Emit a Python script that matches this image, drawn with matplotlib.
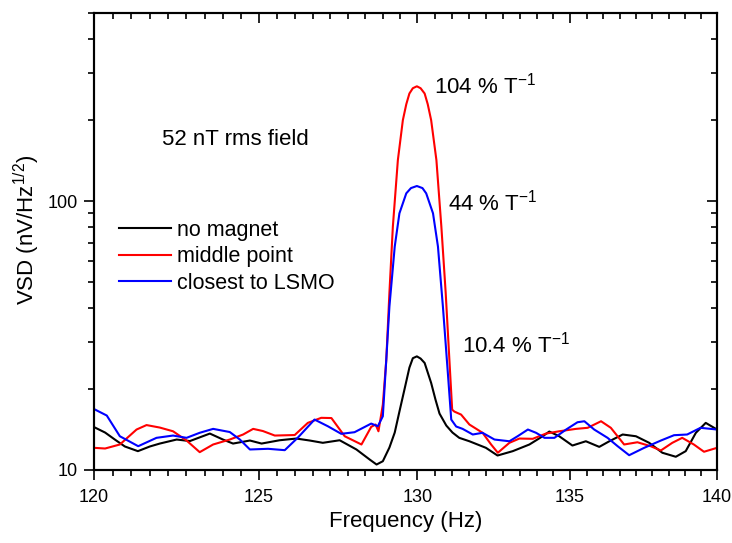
import matplotlib
matplotlib.use('Agg')
import matplotlib.pyplot as plt
from matplotlib.ticker import FixedLocator, NullFormatter, FormatStrFormatter, LogLocator

plt.rcParams['font.family'] = ['Liberation Sans', 'DejaVu Sans']
plt.rcParams['mathtext.fontset'] = 'custom'
plt.rcParams['mathtext.rm'] = 'Liberation Sans'
plt.rcParams['mathtext.it'] = 'Liberation Sans:italic'
plt.rcParams['mathtext.default'] = 'regular'

# no magnet
freq_black = [120.00, 120.33, 120.62, 120.92, 121.31, 121.67, 121.97, 122.48, 122.88, 123.49,
              123.89, 124.20, 124.72, 125.08, 125.64, 126.16, 126.58, 126.99, 127.52, 128.05,
              128.47, 128.69, 128.89, 129.10, 129.27, 129.42, 129.58, 129.74, 129.85, 129.98,
              130.10, 130.23, 130.44, 130.58, 130.71, 130.93, 131.13, 131.35, 131.68, 132.22,
              132.60, 133.10, 133.65, 134.09, 134.31, 134.64, 135.08, 135.53, 135.98, 136.32,
              136.77, 137.22, 137.67, 138.12, 138.58, 138.92, 139.27, 139.61, 140.00]
vsd_black = [14.44, 13.78, 12.98, 12.23, 11.75, 12.23, 12.54, 12.98, 12.81, 13.66,
             12.98, 12.54, 12.87, 12.54, 12.90, 13.09, 12.87, 12.62, 12.90, 11.92,
             10.94, 10.48, 10.78, 12.12, 13.78, 16.49, 19.89, 24.02, 26.04, 26.45,
             25.96, 25.00, 21.07, 18.27, 16.21, 14.63, 13.78, 13.17, 12.79, 12.09,
             11.32, 11.75, 12.44, 13.35, 13.90, 13.35, 12.33, 12.79, 12.19, 12.79,
             13.55, 13.35, 12.62, 11.59, 11.20, 11.75, 13.75, 14.97, 14.14]

# middle point
freq_red = [120.00, 120.33, 120.77, 121.27, 121.57, 121.97, 122.37, 122.78, 123.18, 123.59,
            124.10, 124.51, 124.82, 125.12, 125.49, 126.11, 126.52, 126.94, 127.26, 127.68,
            128.21, 128.52, 128.66, 128.75, 128.89, 129.00, 129.10, 129.21, 129.37, 129.53,
            129.64, 129.74, 129.85, 129.98, 130.10, 130.23, 130.33, 130.44, 130.61, 130.77,
            130.91, 131.03, 131.12, 131.19, 131.41, 131.68, 132.11, 132.39, 132.61, 132.99,
            133.32, 133.76, 134.20, 134.64, 135.20, 135.59, 136.04, 136.37, 136.82, 137.27,
            137.72, 138.07, 138.46, 138.80, 139.20, 139.55, 140.00]
vsd_red = [12.09, 12.02, 12.44, 14.14, 14.69, 14.38, 13.93, 12.87, 11.65, 12.44,
           12.98, 13.55, 14.22, 13.96, 13.43, 13.49, 14.97, 15.63, 15.60, 13.35,
           12.44, 14.47, 14.76, 13.93, 17.50, 25.7, 45.6, 80.3, 141.9, 199.8,
           229.0, 251.0, 262.6, 267.0, 262.6, 251.0, 229.0, 199.8, 141.9, 80.3,
           45.6, 25.7, 16.77, 16.49, 16.07, 14.76, 13.75, 12.44, 11.59, 12.62,
           13.09, 13.06, 13.66, 13.93, 14.22, 14.35, 15.18, 14.35, 12.44, 12.68,
           12.26, 11.82, 12.62, 13.17, 12.44, 11.69, 12.09]

# closest to LSMO
freq_blue = [120.00, 120.38, 120.77, 121.32, 121.87, 122.37, 122.78, 123.18, 123.59, 124.10,
             124.41, 124.72, 125.28, 125.80, 126.21, 126.73, 127.15, 127.57, 127.99, 128.52,
             128.73, 128.89, 129.00, 129.10, 129.27, 129.42, 129.64, 129.79, 129.98, 130.16,
             130.28, 130.50, 130.66, 130.82, 130.98, 131.09, 131.25, 131.46, 131.79, 132.11,
             132.50, 132.99, 133.26, 133.60, 133.87, 134.15, 134.48, 134.87, 135.25, 135.48,
             135.81, 136.26, 136.60, 136.99, 137.50, 138.07, 138.52, 138.97, 139.43, 140.00]
vsd_blue = [16.85, 15.94, 13.35, 12.26, 13.17, 13.43, 13.17, 13.75, 14.22, 13.84,
            12.98, 11.92, 11.99, 11.85, 13.20, 15.40, 14.54, 13.63, 13.82, 14.88,
            14.54, 15.84, 25.7, 40.5, 67.7, 90.0, 106.8, 111.7, 113.7, 111.7,
            106.8, 90.0, 67.7, 40.5, 22.95, 15.40, 14.51, 14.22, 13.55, 13.75,
            12.98, 12.79, 13.35, 14.14, 13.75, 13.17, 13.17, 14.14, 15.05, 15.18,
            14.14, 13.17, 12.26, 11.35, 12.09, 12.87, 13.47, 13.55, 14.35, 14.14]

series_labels = ['no magnet', 'middle point', 'closest to LSMO']
x_major = [120, 125, 130, 135, 140]
y_major = [10, 100]

W, H = 732, 543
fig = plt.figure(figsize=(W / 100, H / 100), dpi=100)
rect = [94 / W, 1 - 470 / H, (717 - 94) / W, (470 - 13) / H]

# origin style minor ticks: 8 between majors
x_minor = [m + k * 5 / 9 for m in x_major[:-1] for k in range(1, 9)]


def setup(a, labels, direction):
    a.set_xscale('log')
    a.set_yscale('log')
    a.set_xlim(120, 140)
    a.set_ylim(10, 500)
    a.xaxis.set_major_locator(FixedLocator(x_major))
    a.xaxis.set_minor_locator(FixedLocator(x_minor))
    a.yaxis.set_major_locator(FixedLocator(y_major))
    a.yaxis.set_minor_locator(LogLocator(base=10, subs=range(2, 10)))
    a.xaxis.set_minor_formatter(NullFormatter())
    a.yaxis.set_minor_formatter(NullFormatter())
    a.xaxis.set_major_formatter(FormatStrFormatter('%d') if labels else NullFormatter())
    a.yaxis.set_major_formatter(FormatStrFormatter('%d') if labels else NullFormatter())
    a.tick_params(which='major', direction=direction, length=7.5, width=1.2)
    a.tick_params(which='minor', direction=direction, length=4, width=1.2)
    for s in a.spines.values():
        s.set_linewidth(1.5)


# overlay axes only for the inward ticks on top and right
ax_in = fig.add_axes(rect)
setup(ax_in, False, 'in')
ax_in.tick_params(which='both', bottom=False, left=False, top=True, right=True)
ax_in.patch.set_visible(False)

ax = fig.add_axes(rect, zorder=2)
ax.patch.set_visible(False)
setup(ax, True, 'out')
ax.tick_params(which='both', bottom=True, left=True, top=False, right=False)
ax.tick_params(axis='x', labelsize=13, pad=6)
ax.tick_params(axis='y', labelsize=13, pad=4)

ax.plot(freq_black, vsd_black, color='black', lw=1.5, label=series_labels[0])
ax.plot(freq_red, vsd_red, color='#ff0000', lw=1.5, label=series_labels[1])
ax.plot(freq_blue, vsd_blue, color='#0000ff', lw=1.5, label=series_labels[2])
ax.set_xlim(120, 140)
ax.set_ylim(10, 500)

ax.set_xlabel('Frequency (Hz)', fontsize=16)
ax.set_ylabel('VSD (nV/Hz$^{1/2}$)', fontsize=16)
ax.xaxis.set_label_coords(0.5, -0.09)
ax.yaxis.set_label_coords(-0.083, 0.525)

leg = ax.legend(loc='upper left', bbox_to_anchor=(119 / W, 1 - 220 / H),
                bbox_transform=fig.transFigure, frameon=False, fontsize=15.5,
                handlelength=2.4, handletextpad=0.3, labelspacing=0.25,
                borderpad=0, borderaxespad=0)

fig.text(162 / W, 1 - 145 / H, '52 nT rms field', fontsize=16, va='baseline')
fig.text(434 / W, 1 - 93.5 / H, '104 % T$^{-1}$', fontsize=16, va='baseline')
fig.text(448 / W, 1 - 210 / H, '44 % T$^{-1}$', fontsize=16, va='baseline')
fig.text(462 / W, 1 - 352.5 / H, '10.4 % T$^{-1}$', fontsize=16, va='baseline')

fig.savefig('out.png', dpi=100)
